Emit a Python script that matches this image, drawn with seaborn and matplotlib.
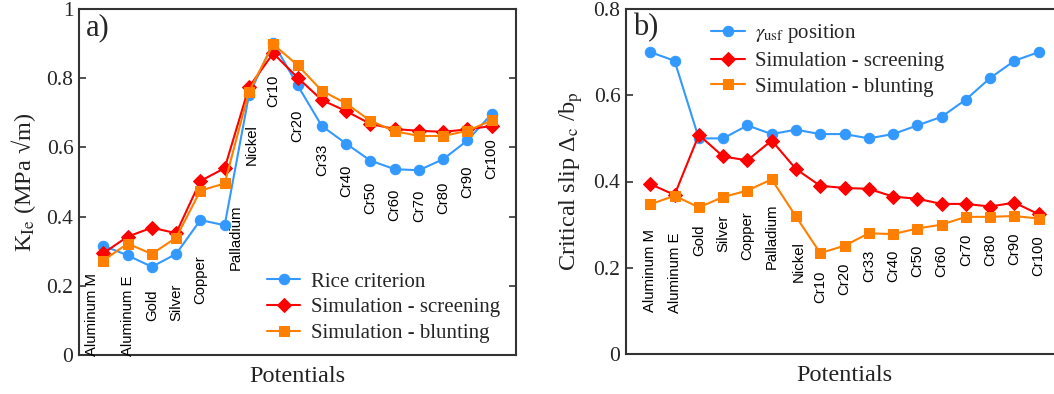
import numpy as np
import pandas as pd
import matplotlib
matplotlib.use("Agg")
import matplotlib.pyplot as plt
import seaborn as sns

# ---------------- data ----------------
potentials = ["Aluminum M", "Aluminum E", "Gold", "Silver", "Copper", "Palladium",
              "Nickel", "Cr10", "Cr20", "Cr33", "Cr40", "Cr50", "Cr60", "Cr70",
              "Cr80", "Cr90", "Cr100"]

# panel a) K_Ie (MPa sqrt(m))
rice_criterion = [0.316, 0.288, 0.255, 0.292, 0.390, 0.375, 0.751, 0.903, 0.780,
                  0.662, 0.611, 0.562, 0.537, 0.534, 0.566, 0.620, 0.697]
kie_screening = [0.294, 0.342, 0.368, 0.352, 0.503, 0.540, 0.774, 0.872, 0.802,
                 0.737, 0.705, 0.668, 0.653, 0.648, 0.645, 0.652, 0.662]
kie_blunting = [0.273, 0.322, 0.292, 0.339, 0.475, 0.496, 0.761, 0.898, 0.838,
                0.764, 0.727, 0.677, 0.647, 0.633, 0.633, 0.648, 0.678]

# panel b) critical slip Delta_c / b_p
usf_position = [0.700, 0.680, 0.500, 0.500, 0.530, 0.510, 0.520, 0.510, 0.510,
                0.500, 0.510, 0.530, 0.550, 0.590, 0.640, 0.680, 0.700]
slip_screening = [0.394, 0.369, 0.508, 0.458, 0.449, 0.495, 0.429, 0.390, 0.385,
                  0.383, 0.365, 0.360, 0.348, 0.348, 0.342, 0.351, 0.324]
slip_blunting = [0.347, 0.367, 0.340, 0.364, 0.379, 0.405, 0.319, 0.234, 0.251,
                 0.280, 0.278, 0.291, 0.300, 0.318, 0.318, 0.320, 0.314]

# annotation anchors for the rotated potential names (top of text, data units)
label_top_a = [0.236, 0.231, 0.188, 0.207, 0.289, 0.436, 0.668, 0.809, 0.708,
               0.610, 0.549, 0.501, 0.482, 0.477, 0.501, 0.549, 0.626]
label_dx_a = [-0.47, 0, 0, 0, 0, 0.45, 0.1, 0, 0, 0, 0, 0, 0, 0, 0, 0, 0]
label_top_b = [0.290, 0.282, 0.300, 0.324, 0.332, 0.348, 0.261, 0.193, 0.211,
               0.242, 0.243, 0.253, 0.253, 0.280, 0.280, 0.282, 0.276]
label_dx_b = [0, 0, 0, 0, 0, 0, 0.1, 0, 0, 0, 0, 0, 0, 0, 0, 0, 0]

yticks_a = [0, 0.2, 0.4, 0.6, 0.8, 1]
yticks_b = [0, 0.2, 0.4, 0.6, 0.8]

# ---------------- style ----------------
sns.set_theme(style="white")
plt.rcParams["font.family"] = ["Liberation Serif", "DejaVu Serif"]
plt.rcParams["mathtext.fontset"] = "stix"

BLUE = "#3399FF"
RED = "#FF0000"
ORANGE = "#FF8000"
SPINE = "#333333"

pos = np.arange(1, len(potentials) + 1)

fig = plt.figure(figsize=(10.54, 3.94), dpi=100)
ax_a = fig.add_axes([79 / 1054, 39 / 394, 437 / 1054, 346 / 394])
ax_b = fig.add_axes([626 / 1054, 40 / 394, 437 / 1054, 345 / 394])


def draw(ax, series, labels, label_top, label_dx, ylim, yticks):
    styles = [("o", BLUE, 7.5), ("D", RED, 7.5), ("s", ORANGE, 7)]
    for vals, lab, (mk, col, ms) in zip(series, labels, styles):
        df = pd.DataFrame({"pos": pos, "val": vals})
        sns.lineplot(data=df, x="pos", y="val", ax=ax, color=col, marker=mk,
                     markersize=ms, markeredgecolor=col, linewidth=1.5,
                     label=lab)
    for i, name in enumerate(potentials):
        ax.text(pos[i] + label_dx[i], label_top[i], name, rotation=90,
                ha="center", va="top", fontsize=10.7,
                family=["Liberation Sans", "DejaVu Sans"], color="black")
    ax.set_xlim(0, 18)
    ax.set_ylim(*ylim)
    ax.set_xticks([])
    ax.set_yticks(yticks)
    ax.set_yticklabels([f"{t:g}" for t in yticks], fontsize=15.5)
    ax.tick_params(axis="y", direction="in", length=5, width=1.2, color=SPINE,
                   left=True, right=True, pad=4)
    for sp in ax.spines.values():
        sp.set_color(SPINE)
        sp.set_linewidth(1.5)
    ax.set_xlabel("Potentials", fontsize=17.5, labelpad=8, color="#222222")


draw(ax_a, [rice_criterion, kie_screening, kie_blunting],
     ["Rice criterion", "Simulation - screening", "Simulation - blunting"],
     label_top_a, label_dx_a, (0, 1), yticks_a)
draw(ax_b, [usf_position, slip_screening, slip_blunting],
     [r"$\gamma_{\mathrm{usf}}$ position", "Simulation - screening",
      "Simulation - blunting"],
     label_top_b, label_dx_b, (0, 0.8), yticks_b)

ax_a.set_ylabel(r"K$_{\mathrm{Ie}}$ (MPa √m)", fontsize=17.5, labelpad=6,
                color="#222222")
ax_b.set_ylabel(r"Critical slip Δ$_{\mathrm{c}}$ /b$_{\mathrm{p}}$",
                fontsize=17.5, labelpad=6, color="#222222")

ax_a.text(0.016, 0.945, "a)", transform=ax_a.transAxes, fontsize=22,
          va="center", ha="left")
ax_b.text(0.016, 0.945, "b)", transform=ax_b.transAxes, fontsize=22,
          va="center", ha="left")

leg_kw = dict(frameon=False, fontsize=15, borderpad=0, borderaxespad=0,
              handlelength=1.6, handletextpad=0.5, labelspacing=0.3)
ax_a.legend(loc="upper left", bbox_to_anchor=(0.43, 0.24), **leg_kw)
ax_b.legend(loc="upper left", bbox_to_anchor=(0.195, 0.962), **leg_kw)

fig.savefig("out.png", dpi=100)
